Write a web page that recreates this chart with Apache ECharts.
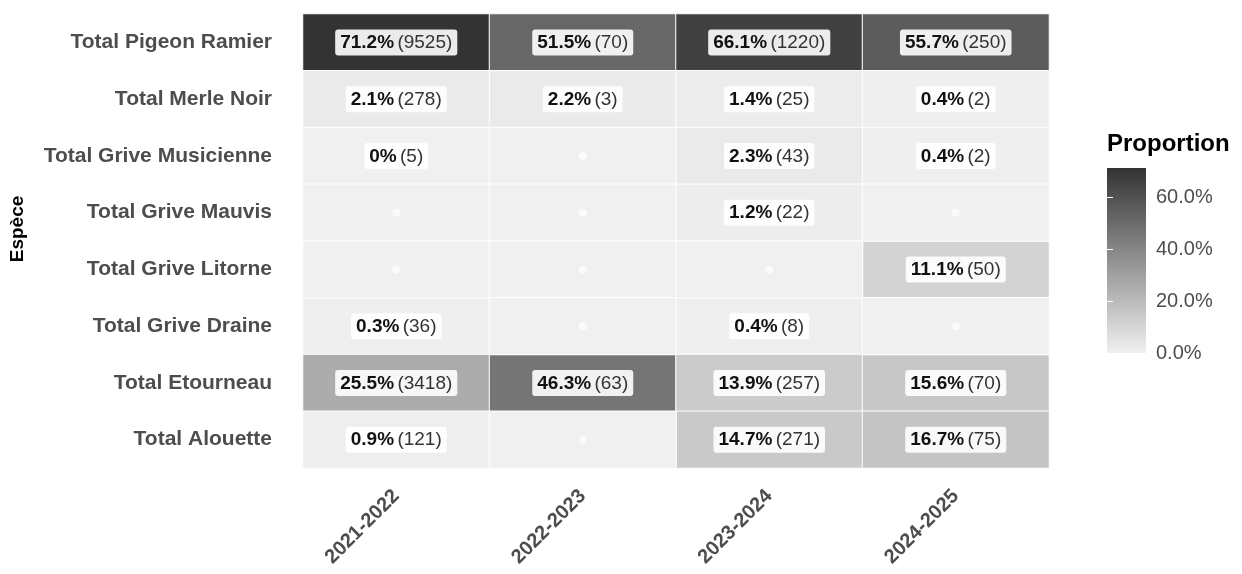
<!DOCTYPE html>
<html>
<head>
<meta charset="utf-8">
<script src="https://cdn.jsdelivr.net/npm/echarts@6/dist/echarts.min.js"></script>
<style>
  html, body { margin: 0; padding: 0; background: #ffffff; }
  #chart { width: 1242px; height: 574px; }
</style>
</head>
<body>
<div id="chart"></div>
<script>
// Seasons (columns) and species (rows, top to bottom)
const seasons = ['2021-2022', '2022-2023', '2023-2024', '2024-2025'];
const species = [
  'Total Pigeon Ramier',
  'Total Merle Noir',
  'Total Grive Musicienne',
  'Total Grive Mauvis',
  'Total Grive Litorne',
  'Total Grive Draine',
  'Total Etourneau',
  'Total Alouette'
];

// Share of each species within a season (%), null = no record
const proportions = [
  [71.2, 51.5, 66.1, 55.7],
  [2.1, 2.2, 1.4, 0.4],
  [0, null, 2.3, 0.4],
  [null, null, 1.2, null],
  [null, null, null, 11.1],
  [0.3, null, 0.4, null],
  [25.5, 46.3, 13.9, 15.6],
  [0.9, null, 14.7, 16.7]
];

// Number of birds counted
const counts = [
  [9525, 70, 1220, 250],
  [278, 3, 25, 2],
  [5, null, 43, 2],
  [null, null, 22, null],
  [null, null, null, 50],
  [36, null, 8, null],
  [3418, 63, 257, 70],
  [121, null, 271, 75]
];

// Colour bar tick values (%)
const legendTicks = [0, 20, 40, 60];

const lowColor = '#f0f0f0';
const highColor = '#333333';
const font = '"Liberation Sans", Arial, sans-serif';

const cells = [];
const emptyCells = [];   // [col, row, 0]: filled with the neutral tone
let maxPct = 0;
species.forEach((sp, r) => {
  seasons.forEach((se, c) => {
    const v = proportions[r][c];
    if (v === null) {
      emptyCells.push([c, r, 0]);
    } else {
      cells.push([c, r, v, counts[r][c]]);
      if (v > maxPct) maxPct = v;
    }
  });
});

const chart = echarts.init(document.getElementById('chart'), null, { renderer: 'canvas' });

chart.setOption({
  animation: false,
  backgroundColor: '#ffffff',
  textStyle: { fontFamily: font },
  grid: [
    { left: 303, right: 193, top: 14, bottom: 106 },
    {
      left: 1107, width: 39, top: 168, height: 185,
      show: true, borderWidth: 0,
      backgroundColor: new echarts.graphic.LinearGradient(0, 0, 0, 1, [
        { offset: 0, color: highColor },
        { offset: 1, color: lowColor }
      ])
    }
  ],
  visualMap: {
    show: false,
    type: 'continuous',
    seriesIndex: 0,
    dimension: 2,
    min: 0,
    max: maxPct,
    inRange: { color: [lowColor, highColor] }
  },
  xAxis: [
    {
      gridIndex: 0,
      type: 'category',
      data: seasons,
      axisLine: { show: false },
      axisTick: { show: false },
      splitLine: { show: false },
      axisLabel: {
        rotate: 45,
        margin: 25,
        fontSize: 20,
        fontWeight: 'bold',
        color: '#4d4d4d',
        fontFamily: font
      }
    },
    { gridIndex: 1, type: 'value', show: false, min: 0, max: 1 }
  ],
  yAxis: [
    {
      gridIndex: 0,
      type: 'category',
      data: species,
      inverse: true,
      axisLine: { show: false },
      axisTick: { show: false },
      splitLine: { show: false },
      axisLabel: {
        margin: 31,
        fontSize: 21,
        fontWeight: 'bold',
        color: '#4d4d4d',
        fontFamily: font
      }
    },
    {
      gridIndex: 1,
      type: 'value',
      position: 'right',
      min: 0,
      max: maxPct,
      axisLine: { show: false },
      splitLine: { show: false },
      axisTick: {
        show: true, inside: true, length: 6,
        customValues: legendTicks,
        lineStyle: { color: '#ffffff', width: 1 }
      },
      axisLabel: {
        customValues: legendTicks,
        margin: 10,
        fontSize: 20,
        color: '#4d4d4d',
        fontFamily: font,
        formatter: v => v.toFixed(1) + '%'
      }
    },
    {
      gridIndex: 1,
      type: 'value',
      position: 'left',
      min: 0,
      max: maxPct,
      axisLine: { show: false },
      splitLine: { show: false },
      axisLabel: { show: false },
      axisTick: {
        show: true, inside: true, length: 6,
        customValues: legendTicks,
        lineStyle: { color: '#ffffff', width: 1 }
      }
    }
  ],
  graphic: [
    {
      type: 'text',
      x: 18, y: 229,
      rotation: Math.PI / 2,
      style: {
        text: 'Espèce',
        font: 'bold 19px ' + font,
        fill: '#000000',
        align: 'center',
        verticalAlign: 'middle'
      }
    },
    {
      type: 'text',
      left: 1107, top: 132,
      style: {
        text: 'Proportion',
        font: 'bold 24px ' + font,
        fill: '#000000'
      }
    }
  ],
  series: [
    {
      type: 'heatmap',
      xAxisIndex: 0,
      yAxisIndex: 0,
      data: cells,
      itemStyle: { borderColor: '#ffffff', borderWidth: 1 },
      emphasis: { disabled: true },
      label: {
        show: true,
        backgroundColor: 'rgba(255,255,255,0.9)',
        borderRadius: 3,
        padding: [4, 5, 3, 5],
        formatter: p => '{p|' + p.data[2] + '%} {n|(' + p.data[3] + ')}',
        rich: {
          p: { fontSize: 19, fontWeight: 'bold', color: '#111111', fontFamily: font },
          n: { fontSize: 19, color: '#333333', fontFamily: font }
        }
      }
    },
    {
      type: 'heatmap',
      xAxisIndex: 0,
      yAxisIndex: 0,
      data: emptyCells,
      itemStyle: { color: lowColor, borderColor: '#ffffff', borderWidth: 1 },
      emphasis: { disabled: true }
    },
    {
      type: 'scatter',
      xAxisIndex: 0,
      yAxisIndex: 0,
      data: emptyCells,
      symbol: 'circle',
      symbolSize: 8,
      itemStyle: { color: 'rgba(255,255,255,0.9)' },
      emphasis: { disabled: true },
      z: 5
    }
  ]
});
</script>
</body>
</html>
